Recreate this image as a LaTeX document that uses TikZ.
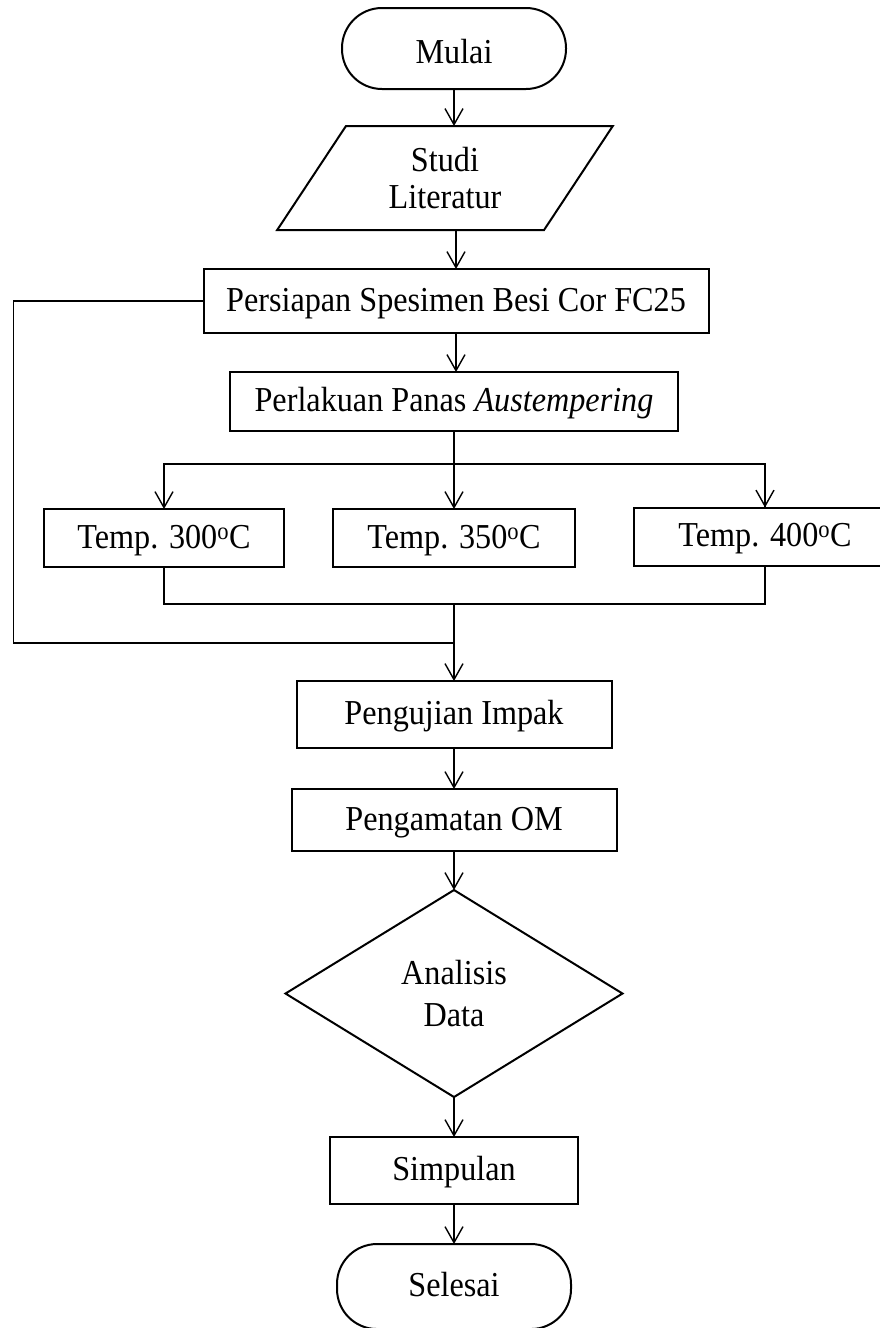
\documentclass[tikz,border=0pt]{standalone}
\usepackage{fontspec}
\setmainfont{Liberation Serif}[FakeStretch=0.92]
\usetikzlibrary{arrows.meta,shapes.geometric,positioning}

\begin{document}
\begin{tikzpicture}
  [x=1pt,y=-1pt,
 term/.style={
  rectangle,
  rounded corners=40pt,
  line width=2pt, % border
  draw=black,
  outer sep=0pt,
  minimum width=224pt,
  minimum height=81pt,
  text height=23pt,
  text depth=3pt,
  align=center,
  font=\fontsize{35}{38}\selectfont},
 proc/.style={
  rectangle,
  line width=2pt, % border
  draw=black,
  outer sep=0pt,
  inner sep=0pt,
  minimum height=60pt,
  text height=23pt,
  text depth=3pt,
  align=center,
  font=\fontsize{35}{38}\selectfont},
 io/.style={
  trapezium,
  trapezium left angle=57.6,
  trapezium right angle=122.4,
  trapezium stretches=true,
  line width=2pt,
  draw=black,
  outer sep=0pt,
  inner sep=0pt,
  minimum width=336pt,
  minimum height=104pt,
  align=center,
  font=\fontsize{35}{37}\selectfont},
 decide/.style={
  diamond,
  line width=2pt,
  draw=black,
  outer sep=0pt,
  inner sep=0pt,
  minimum width=337pt,
  minimum height=207pt,
  align=center,
  font=\fontsize{35}{42}\selectfont},
 line/.style={line width=1.4pt},
 tip/.style={-{Straight Barb[length=16pt,width=18pt]},line width=1.4pt}]
\useasboundingbox (0,0) rectangle (880,1328);
\node (mulai) [term, text height=30pt, text depth=0pt] at (454,48.5) {Mulai};
\node (studi) [io, below=37pt of mulai, xshift=-9pt] {Studi\\Literatur};
\node (persiapan) [proc, minimum width=505pt, minimum height=64pt, below=39pt of studi, xshift=11pt] {Persiapan Spesimen Besi Cor FC25};
\node (perlakuan) [proc, minimum width=448pt, minimum height=59pt, below=39pt of persiapan, xshift=-2pt] {Perlakuan Panas \textit{Austempering}};
\node (t350) [proc, minimum width=242pt, minimum height=58pt, below=78pt of perlakuan] {Temp. 350\textsuperscript{o}C};
\node (t300) [proc, minimum width=240pt, minimum height=58pt, left=49pt of t350] {Temp. 300\textsuperscript{o}C};
\node (t400) [proc, minimum width=262pt, minimum height=58pt, right=59pt of t350, yshift=1.5pt] {Temp. 400\textsuperscript{o}C};
\coordinate [below=33pt of perlakuan] (split);
\coordinate [below=37pt of t350] (merge);
\coordinate [below=39pt of merge] (join);
\node (pengujian) [proc, minimum width=315pt, minimum height=67pt, below=114pt of t350] {Pengujian Impak};
\node (pengamatan) [proc, minimum width=325pt, minimum height=62pt, below=41pt of pengujian] {Pengamatan OM};
\node (analisis) [decide, below=39pt of pengamatan] {Analisis\\Data};
\node (simpulan) [proc, minimum width=248pt, minimum height=67pt, below=40pt of analisis] {Simpulan};
\node (selesai) [term, minimum width=234pt, minimum height=85pt, below=40pt of simpulan] {Selesai};
% alur utama
\draw[tip] (mulai) -- (mulai |- studi.north);
\draw[tip] (persiapan |- studi.south) -- (persiapan);
\draw[tip] (persiapan) -- (persiapan |- perlakuan.north);
\draw[tip] (perlakuan) -- (t350);
\draw[line] (perlakuan |- split) -| (t400.north);
\draw[tip] (split) -| (t300);
\draw[tip] (split) -| (t400);
\draw[line] (t300) |- (merge) -| (t400);
\draw[line] (persiapan.west) -- ++(-190pt,0) |- (join);
\draw[tip] (merge) -- (pengujian);
\draw[tip] (pengujian) -- (pengamatan);
\draw[tip] (pengamatan) -- (analisis);
\draw[tip] (analisis) -- (simpulan);
\draw[tip] (simpulan) -- (selesai);
\end{tikzpicture}
\end{document}
